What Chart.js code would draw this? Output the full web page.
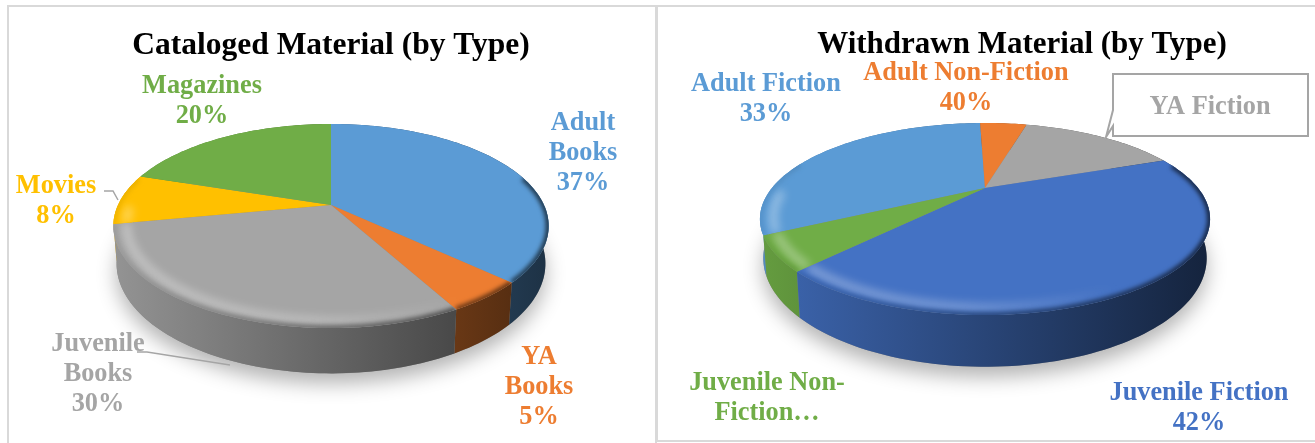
<!DOCTYPE html>
<html>
<head>
<meta charset="utf-8">
<script src="https://cdn.jsdelivr.net/npm/chart.js@4"></script>
<style>
  html, body { margin: 0; background: #fff; overflow: hidden; }
  canvas { position: absolute; top: 0; }
  .frame { position: absolute; top: 5px; border: 2px solid #d9d9d9; box-sizing: border-box; }
</style>
</head>
<body>
<div class="frame" style="left:7px;width:650px;height:445px"></div>
<div class="frame" style="left:656px;width:665px;height:437px"></div>
<canvas id="cataloged" width="656" height="443" style="left:0"></canvas>
<canvas id="withdrawn" width="659" height="443" style="left:656px"></canvas>
<script>
// Cataloged chart data
const catalogedLabels = ['Adult Books', 'YA Books', 'Juvenile Books', 'Movies', 'Magazines'];
const catalogedValues = [37, 5, 30, 8, 20];
const catalogedPercents = ['37%', '5%', '30%', '8%', '20%'];
const catalogedColors = ['#5b9bd5', '#ed7d31', '#a5a5a5', '#ffc000', '#70ad47'];

// Withdrawn chart data (the 40% is what the picture prints for the small orange slice)
const withdrawnLabels = ['Adult Fiction', 'Adult Non-Fiction', 'YA Fiction', 'Juvenile Fiction', 'Juvenile Non-Fiction'];
const withdrawnValues = [32.3, 4.6, 15.1, 42.5, 5.5];
const withdrawnPercents = ['33%', '40%', '', '42%', ''];
const withdrawnColors = ['#5b9bd5', '#ed7d31', '#a5a5a5', '#4472c4', '#70ad47'];

const LABEL_FONT = 'bold 26.3px "Liberation Serif"';

function shade(hex, f) {
  const n = parseInt(hex.slice(1), 16);
  return `rgb(${(n >> 16) * f | 0},${((n >> 8) & 255) * f | 0},${(n & 255) * f | 0})`;
}

// tilted disc: the library gives the angles, this maps them to the page
function rimPoint(p, a, scale) {
  const w = 1 - p.k * Math.sin(a);
  return [p.cx + p.R * scale * Math.cos(a) / w, p.cy + p.S * scale * Math.sin(a) / w];
}
function basePoint(p, a) {
  const w = 1 - p.k * Math.sin(a);
  return [p.cx + p.R * 0.985 * Math.cos(a) / w, p.cy + (p.S * Math.sin(a) + p.depth) / w];
}
function sampleAngles(a0, a1) {
  const n = Math.max(2, Math.ceil((a1 - a0) * 40));
  const out = [];
  for (let i = 0; i <= n; i++) out.push(a0 + (a1 - a0) * i / n);
  return out;
}
function trace(ctx, pts) {
  pts.forEach((q, i) => i ? ctx.lineTo(q[0], q[1]) : ctx.moveTo(q[0], q[1]));
}

const tiltedPie = {
  id: 'tiltedPie',
  beforeDatasetsDraw(chart, args, p) {
    const ctx = chart.ctx;
    const arcs = chart.getDatasetMeta(0).data;
    const colors = chart.data.datasets[0].backgroundColor;
    const left = p.cx - p.R * 1.03, right = p.cx + p.R * 1.03;
    ctx.save();

    // soft shadow under the disc
    const all = sampleAngles(0, Math.PI * 2);
    ctx.save();
    ctx.shadowColor = 'rgba(0,0,0,0.3)';
    ctx.shadowBlur = 20;
    ctx.shadowOffsetY = 10;
    ctx.fillStyle = '#888';
    ctx.beginPath();
    trace(ctx, all.map(a => basePoint(p, a)));
    ctx.fill();
    ctx.restore();

    // side walls, back to front
    const order = arcs.map((arc, i) => i).sort((a, b) =>
      Math.sin((arcs[a].startAngle + arcs[a].endAngle) / 2) - Math.sin((arcs[b].startAngle + arcs[b].endAngle) / 2));
    order.forEach(i => {
      const angles = sampleAngles(arcs[i].startAngle, arcs[i].endAngle);
      const grad = ctx.createLinearGradient(left, 0, right, 0);
      grad.addColorStop(0, shade(colors[i], 0.9));
      grad.addColorStop(1, shade(colors[i], 0.32));
      ctx.fillStyle = grad;
      ctx.beginPath();
      trace(ctx, angles.map(a => rimPoint(p, a, 1)).concat(angles.slice().reverse().map(a => basePoint(p, a))));
      ctx.closePath();
      ctx.fill();
    });

    // top face with a rounded front edge
    arcs.forEach((arc, i) => {
      const angles = sampleAngles(arc.startAngle, arc.endAngle);
      ctx.save();
      ctx.beginPath();
      trace(ctx, [[p.cx, p.cy]].concat(angles.map(a => rimPoint(p, a, 1))));
      ctx.closePath();
      ctx.fillStyle = colors[i];
      ctx.fill();
      ctx.clip();

      const front = angles.filter(a => Math.sin(a) > 0.02);
      if (front.length > 1) {
        const glow = ctx.createLinearGradient(left, 0, right, 0);
        glow.addColorStop(0, 'rgba(255,255,255,0.34)');
        glow.addColorStop(0.45, 'rgba(255,255,255,0.26)');
        glow.addColorStop(0.8, 'rgba(255,255,255,0)');
        ctx.filter = 'blur(4px)';
        ctx.strokeStyle = glow;
        ctx.lineWidth = 9;
        ctx.beginPath();
        trace(ctx, front.map(a => rimPoint(p, a, 0.94)));
        ctx.stroke();
      }
      const edge = angles.filter(a => Math.sin(a) > -0.3);
      if (edge.length > 1) {
        const dark = ctx.createLinearGradient(left, 0, right, 0);
        dark.addColorStop(0, shade(colors[i], 0.95));
        dark.addColorStop(0.6, shade(colors[i], 0.6));
        dark.addColorStop(1, shade(colors[i], 0.35));
        ctx.filter = 'blur(2px)';
        ctx.strokeStyle = dark;
        ctx.lineWidth = 6;
        ctx.beginPath();
        trace(ctx, edge.map(a => rimPoint(p, a, 1)));
        ctx.stroke();
      }
      ctx.restore();
    });
    ctx.restore();
    return false;
  },
  afterDraw(chart, args, p) {
    const ctx = chart.ctx;
    const colors = chart.data.datasets[0].backgroundColor;
    ctx.save();
    // leader lines and the call-out box
    ctx.strokeStyle = '#a5a5a5';
    ctx.lineWidth = 1.5;
    (p.leaders || []).forEach(line => {
      ctx.beginPath();
      trace(ctx, line);
      ctx.stroke();
    });
    if (p.callout) {
      ctx.lineWidth = 2;
      ctx.beginPath();
      trace(ctx, p.callout);
      ctx.closePath();
      ctx.fillStyle = '#fff';
      ctx.fill();
      ctx.stroke();
    }
    // data labels
    ctx.font = LABEL_FONT;
    ctx.textAlign = 'center';
    ctx.textBaseline = 'middle';
    p.labels.forEach(l => {
      ctx.fillStyle = colors[l.slice];
      l.lines.forEach((t, j) => ctx.fillText(t, l.x, l.y + 2 + j * p.lineHeight));
    });
    ctx.restore();
  }
};

function makePie(id, labels, values, colors, title, titleSize, rotation, padLeft, titleTop, geometry) {
  return new Chart(document.getElementById(id), {
    type: 'pie',
    data: {
      labels: labels,
      datasets: [{ data: values, backgroundColor: colors, borderWidth: 0 }]
    },
    options: {
      responsive: false,
      animation: false,
      rotation: rotation,
      layout: { padding: { left: padLeft } },
      events: [],
      plugins: {
        legend: { display: false },
        tooltip: { enabled: false },
        title: {
          display: true,
          text: title,
          color: '#000',
          font: { family: '"Liberation Serif"', weight: 'bold', size: titleSize },
          padding: { top: titleTop, bottom: 10 }
        },
        tiltedPie: geometry
      }
    },
    plugins: [tiltedPie]
  });
}

makePie('cataloged', catalogedLabels, catalogedValues, catalogedColors,
  'Cataloged Material (by Type)', 31.5, 0, 6, 27, {
    cx: 331, cy: 205, R: 213, S: 97.7, k: 0.206, depth: 36, lineHeight: 30,
    leaders: [[[104, 191], [113, 191], [118, 200]], [[137, 352], [147, 352], [230, 365]]],
    labels: [
      { slice: 0, x: 583, y: 121, lines: ['Adult', 'Books', catalogedPercents[0]] },
      { slice: 1, x: 539, y: 355, lines: ['YA', 'Books', catalogedPercents[1]] },
      { slice: 2, x: 98, y: 342, lines: ['Juvenile', 'Books', catalogedPercents[2]] },
      { slice: 3, x: 56, y: 184, lines: ['Movies', catalogedPercents[3]] },
      { slice: 4, x: 202, y: 84, lines: ['Magazines', catalogedPercents[4]] }
    ]
  });

makePie('withdrawn', withdrawnLabels, withdrawnValues, withdrawnColors,
  'Withdrawn Material (by Type)', 31, -118, 73, 26, {
    cx: 329, cy: 188, R: 213, S: 86, k: 0.323, depth: 35, lineHeight: 30,
    callout: [[457, 74], [652, 74], [652, 136], [457, 136], [457, 126], [450, 137], [457, 110]],
    labels: [
      { slice: 0, x: 110, y: 82, lines: ['Adult Fiction', withdrawnPercents[0]] },
      { slice: 1, x: 310, y: 71, lines: ['Adult Non-Fiction', withdrawnPercents[1]] },
      { slice: 2, x: 554, y: 105, lines: ['YA Fiction'] },
      { slice: 3, x: 543, y: 391, lines: ['Juvenile Fiction', withdrawnPercents[3]] },
      { slice: 4, x: 111, y: 381, lines: ['Juvenile Non-', 'Fiction…'] }
    ]
  });
</script>
</body>
</html>
